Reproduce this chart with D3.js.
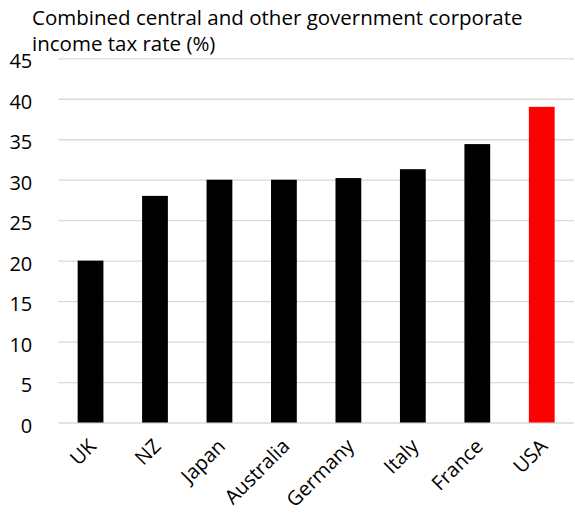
<!DOCTYPE html>
<html>
<head>
<meta charset="utf-8">
<script src="https://cdn.jsdelivr.net/npm/d3@7"></script>
<style>
  body { margin: 0; background: #fff; }
  svg text { font-family: "Open Sans", "Noto Sans", sans-serif; fill: #000; }
</style>
</head>
<body>
<script>
  // chart data
  var countries = ["UK", "NZ", "Japan", "Australia", "Germany", "Italy", "France", "USA"];
  var taxRates = [20.0, 28.0, 30.0, 30.0, 30.2, 31.3, 34.4, 39.0];
  var barColors = ["#000", "#000", "#000", "#000", "#000", "#000", "#000", "#ff0000"];
  var yTicks = [0, 5, 10, 15, 20, 25, 30, 35, 40, 45];
  var titleLines = ["Combined central and other government corporate", "income tax rate (%)"];

  var width = 575,
      height = 513;

  var svg = d3.select("body").append("svg")
      .attr("width", width)
      .attr("height", height);

  var x = d3.scaleBand()
      .domain(countries)
      .range([58.3, 574])
      .paddingInner(0.6)
      .paddingOuter(0.3);

  var y = d3.scaleLinear()
      .domain([0, 45])
      .range([422.5, 58.3]);

  // gridlines + y labels
  var yAxis = d3.axisLeft(y)
      .tickValues(yTicks)
      .tickSize(-(574 - 58.3))
      .tickPadding(26);

  var gy = svg.append("g")
      .attr("transform", "translate(58.3,0)")
      .call(yAxis);
  gy.select(".domain").remove();
  gy.selectAll(".tick line")
      .attr("stroke", "#d9d9d9")
      .attr("stroke-width", 1.3);
  gy.selectAll(".tick text")
      .attr("dy", "0.48em")
      .style("font-size", "20px");

  // bars
  svg.selectAll("rect.bar")
      .data(countries)
      .enter()
      .append("rect")
      .attr("class", "bar")
      .attr("x", function(d) { return x(d); })
      .attr("width", x.bandwidth())
      .attr("y", function(d, i) { return y(taxRates[i]); })
      .attr("height", function(d, i) { return y(0) - y(taxRates[i]); })
      .attr("fill", function(d, i) { return barColors[i]; });

  // x labels, rotated
  var xAxis = d3.axisBottom(x).tickSize(0).tickPadding(0);
  var gx = svg.append("g")
      .attr("transform", "translate(0," + y(0) + ")")
      .call(xAxis);
  gx.select(".domain").remove();
  gx.selectAll(".tick text")
      .style("font-size", "20px")
      .style("text-anchor", "end")
      .attr("y", 0)
      .attr("dy", 0)
      .attr("transform", "translate(7,25) rotate(-45)");

  // title
  svg.append("text")
      .attr("x", 32)
      .attr("y", 25)
      .style("font-size", "20.5px")
      .selectAll("tspan")
      .data(titleLines)
      .enter()
      .append("tspan")
      .attr("x", 32)
      .attr("dy", function(d, i) { return i ? 26 : 0; })
      .text(function(d) { return d; });
</script>
</body>
</html>
